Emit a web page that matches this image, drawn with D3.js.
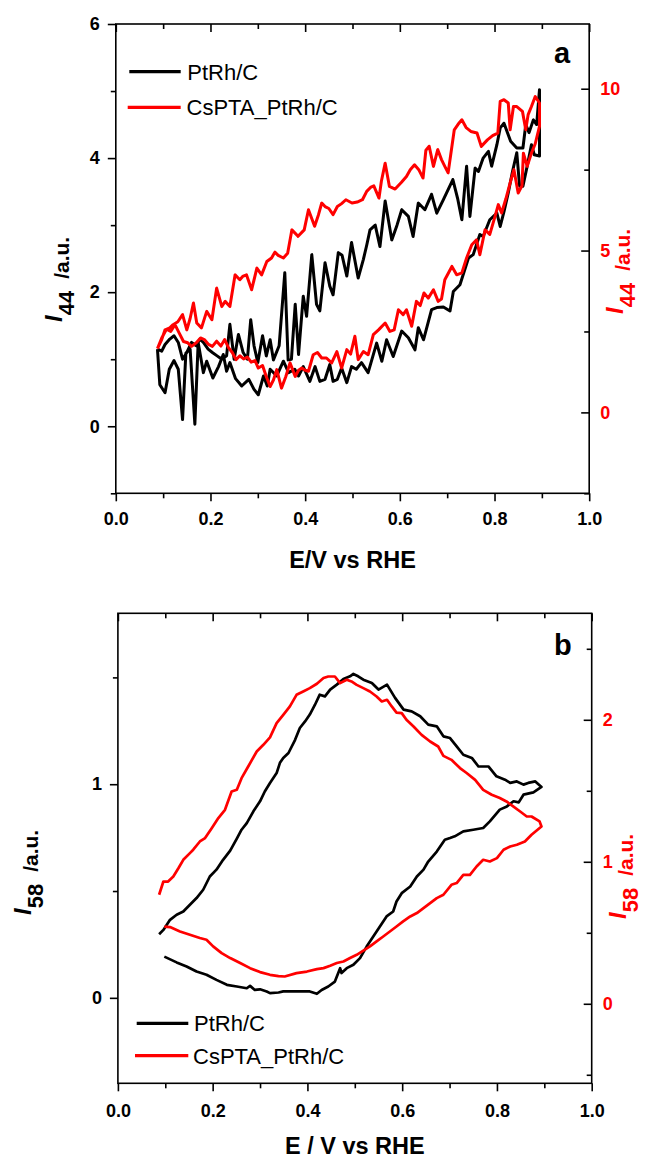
<!DOCTYPE html>
<html><head><meta charset="utf-8">
<script src="https://cdn.jsdelivr.net/npm/d3@7"></script>
<style>body{margin:0;background:#fff}svg{display:block}</style>
</head><body>
<svg id="c" width="648" height="1159"></svg>
<script>
// ---------------- DATA ----------------
const seriesNames = ["PtRh/C", " CsPTA_PtRh/C"];
const seriesNamesB = ["PtRh/C", "CsPTA_PtRh/C"];
const xTicks = [0, 0.2, 0.4, 0.6, 0.8, 1.0];
const xMinorTicks = [0.1, 0.3, 0.5, 0.7, 0.9];
const aLeftTicks = [0, 2, 4, 6];
const aLeftMinor = [-1, 1, 3, 5];
const aRightTicks = [0, 5, 10];
const aRightMinor = [-2.5, 2.5, 7.5];
const bLeftTicks = [0, 1];
const bLeftMinor = [0.5, 1.5];
const bRightTicks = [0, 1, 2];
const bRightMinor = [-0.5, 0.5, 1.5, 2.5];

// panel a, PtRh/C, I44 (left axis) : [E, I]
const aPtRh = [[0.088,1.15],[0.093,0.62],[0.104,0.50],[0.113,0.85],[0.123,0.98],[0.132,0.85],[0.141,0.10],[0.148,1.09],[0.157,1.15],[0.167,0.03],[0.174,1.25],[0.185,0.80],[0.192,0.97],[0.205,0.72],[0.217,0.89],[0.227,1.07],[0.234,0.82],[0.241,0.95],[0.253,0.71],[0.266,0.60],[0.281,0.70],[0.292,0.55],[0.301,0.47],[0.312,0.75],[0.320,0.60],[0.326,0.85],[0.340,0.75],[0.354,0.97],[0.365,0.80],[0.378,0.85],[0.386,0.75],[0.396,0.89],[0.410,0.67],[0.421,0.89],[0.431,0.67],[0.442,0.70],[0.452,0.92],[0.459,0.67],[0.468,0.70],[0.477,0.87],[0.488,0.65],[0.498,0.89],[0.508,0.85],[0.519,0.95],[0.533,0.80],[0.551,1.24],[0.562,0.97],[0.572,1.29],[0.586,1.04],[0.604,1.42],[0.618,1.32],[0.632,1.14],[0.639,1.47],[0.650,1.29],[0.667,1.74],[0.678,1.77],[0.692,1.78],[0.706,1.72],[0.713,2.01],[0.727,2.11],[0.745,2.51],[0.755,2.56],[0.769,2.86],[0.776,2.83],[0.790,3.08],[0.805,3.18],[0.812,2.98],[0.820,3.2],[0.829,3.48],[0.838,3.8],[0.847,4.08],[0.853,3.58],[0.860,3.58],[0.869,3.88],[0.878,4.2],[0.884,4.05],[0.895,4.03],[0.895,5.02],[0.889,4.50],[0.882,4.57],[0.873,4.38],[0.866,4.5],[0.860,4.15],[0.847,4.15],[0.834,4.25],[0.820,4.52],[0.812,4.45],[0.805,4.2],[0.794,3.88],[0.787,4.10],[0.776,4.0],[0.766,3.80],[0.759,3.85],[0.748,3.13],[0.741,3.88],[0.731,3.08],[0.722,3.4],[0.712,3.68],[0.700,3.5],[0.692,3.38],[0.678,3.18],[0.667,3.46],[0.653,3.23],[0.639,3.33],[0.628,2.83],[0.618,3.13],[0.604,3.23],[0.594,3.0],[0.583,2.78],[0.569,3.36],[0.558,2.68],[0.548,3.0],[0.537,2.93],[0.530,2.7],[0.523,2.49],[0.512,2.21],[0.498,2.74],[0.488,2.24],[0.478,2.55],[0.470,2.59],[0.459,1.96],[0.452,2.09],[0.442,2.44],[0.431,1.72],[0.424,1.82],[0.414,2.56],[0.403,1.64],[0.396,1.94],[0.386,1.07],[0.379,1.82],[0.371,1.0],[0.364,0.99],[0.357,2.29],[0.345,1.2],[0.333,0.99],[0.326,1.29],[0.318,1.05],[0.310,1.35],[0.300,0.95],[0.292,1.2],[0.285,1.59],[0.278,1.0],[0.269,1.1],[0.259,1.37],[0.250,1.0],[0.241,1.52],[0.234,1.05],[0.224,1.0],[0.214,1.05],[0.204,1.1],[0.195,1.15],[0.185,1.25],[0.178,1.3],[0.170,1.2],[0.160,1.25],[0.150,1.1],[0.141,1.0],[0.132,1.25],[0.123,1.35],[0.114,1.3],[0.104,1.22],[0.097,1.12],[0.088,1.15]];

// panel a, CsPTA_PtRh/C, I44 (right axis)
const aCsPTA = [[0.088,1.97],[0.097,2.3],[0.107,2.57],[0.116,2.5],[0.125,2.71],[0.134,2.45],[0.143,2.19],[0.152,2.15],[0.160,2.04],[0.170,2.15],[0.179,2.3],[0.187,2.25],[0.196,2.1],[0.204,2.04],[0.213,2.2],[0.222,2.05],[0.230,2.25],[0.238,2.0],[0.246,1.85],[0.254,1.63],[0.262,1.75],[0.270,1.65],[0.278,1.71],[0.286,1.55],[0.294,1.6],[0.301,1.37],[0.310,1.45],[0.318,1.1],[0.326,0.80],[0.333,1.0],[0.340,1.32],[0.350,0.75],[0.359,1.1],[0.368,1.53],[0.379,1.11],[0.386,1.3],[0.393,1.37],[0.400,1.3],[0.407,1.27],[0.417,1.78],[0.426,1.85],[0.435,1.68],[0.445,1.68],[0.456,1.53],[0.467,1.88],[0.477,1.37],[0.488,1.94],[0.496,1.8],[0.505,2.35],[0.512,1.63],[0.523,1.88],[0.533,1.78],[0.544,2.40],[0.555,2.55],[0.569,2.76],[0.579,2.50],[0.588,2.55],[0.597,3.17],[0.607,3.02],[0.614,3.17],[0.625,2.66],[0.635,3.43],[0.643,3.3],[0.651,3.69],[0.660,3.53],[0.671,3.79],[0.681,3.43],[0.688,3.5],[0.695,4.10],[0.710,4.51],[0.720,4.25],[0.731,4.31],[0.741,4.77],[0.752,5.18],[0.762,5.33],[0.769,4.87],[0.780,5.64],[0.790,5.5],[0.800,6.0],[0.808,6.42],[0.815,6.16],[0.824,6.6],[0.833,7.09],[0.841,7.5],[0.850,6.78],[0.858,7.0],[0.861,8.01],[0.869,7.60],[0.878,8.01],[0.886,8.3],[0.895,8.84],[0.895,9.56],[0.886,9.76],[0.878,9.45],[0.871,9.2],[0.866,8.73],[0.859,9.3],[0.847,9.45],[0.840,9.45],[0.833,8.73],[0.829,9.56],[0.820,9.66],[0.812,9.61],[0.807,8.63],[0.796,8.55],[0.785,8.42],[0.772,8.22],[0.763,8.63],[0.750,8.68],[0.740,8.8],[0.731,9.04],[0.723,8.9],[0.715,8.73],[0.702,7.40],[0.695,7.6],[0.688,7.81],[0.680,8.12],[0.671,7.60],[0.662,8.22],[0.655,8.1],[0.649,7.24],[0.640,7.5],[0.631,7.65],[0.622,7.5],[0.614,7.29],[0.603,7.1],[0.590,6.9],[0.578,6.98],[0.569,7.70],[0.561,7.14],[0.556,6.62],[0.545,7.0],[0.538,6.95],[0.530,6.83],[0.521,6.57],[0.510,6.5],[0.499,6.47],[0.486,6.57],[0.477,6.45],[0.468,6.36],[0.459,6.11],[0.450,6.3],[0.442,6.36],[0.435,6.47],[0.428,6.1],[0.420,5.75],[0.407,6.26],[0.398,5.64],[0.385,5.44],[0.372,5.64],[0.363,4.92],[0.354,4.77],[0.343,4.85],[0.336,4.95],[0.329,4.77],[0.319,4.66],[0.308,4.25],[0.298,4.46],[0.287,3.79],[0.276,4.25],[0.268,4.2],[0.262,4.10],[0.252,4.25],[0.241,3.27],[0.231,3.43],[0.224,3.27],[0.213,3.84],[0.203,2.86],[0.192,3.12],[0.181,2.61],[0.171,2.76],[0.164,3.38],[0.157,2.9],[0.150,2.55],[0.141,3.02],[0.131,2.8],[0.121,2.71],[0.114,2.61],[0.104,2.55],[0.097,2.25],[0.088,1.97]];

// panel b, PtRh/C, I58 (left axis)
const bPtRh = [[0.098,0.193],[0.124,0.166],[0.145,0.147],[0.166,0.123],[0.187,0.108],[0.208,0.084],[0.230,0.061],[0.251,0.053],[0.272,0.045],[0.279,0.056],[0.289,0.037],[0.300,0.040],[0.314,0.030],[0.321,0.022],[0.339,0.025],[0.349,0.030],[0.377,0.030],[0.405,0.030],[0.420,0.019],[0.430,0.037],[0.444,0.053],[0.458,0.076],[0.469,0.139],[0.472,0.116],[0.483,0.139],[0.497,0.155],[0.511,0.186],[0.525,0.240],[0.539,0.287],[0.553,0.334],[0.567,0.381],[0.581,0.404],[0.588,0.451],[0.599,0.490],[0.617,0.521],[0.631,0.568],[0.645,0.600],[0.655,0.638],[0.673,0.685],[0.690,0.740],[0.701,0.748],[0.711,0.756],[0.729,0.779],[0.750,0.787],[0.771,0.795],[0.785,0.826],[0.806,0.881],[0.821,0.896],[0.835,0.920],[0.846,0.915],[0.856,0.951],[0.877,0.962],[0.894,0.987],[0.881,1.013],[0.866,1.006],[0.856,0.998],[0.842,1.013],[0.828,1.006],[0.817,1.021],[0.799,1.037],[0.782,1.083],[0.761,1.083],[0.747,1.123],[0.729,1.138],[0.715,1.177],[0.701,1.216],[0.687,1.224],[0.673,1.271],[0.655,1.279],[0.638,1.318],[0.620,1.341],[0.603,1.349],[0.585,1.404],[0.568,1.466],[0.550,1.443],[0.536,1.474],[0.518,1.489],[0.507,1.505],[0.497,1.516],[0.490,1.505],[0.476,1.492],[0.462,1.466],[0.448,1.443],[0.437,1.411],[0.426,1.419],[0.416,1.372],[0.405,1.326],[0.395,1.294],[0.384,1.263],[0.374,1.208],[0.360,1.146],[0.349,1.123],[0.342,1.10],[0.335,1.052],[0.321,1.006],[0.310,0.966],[0.300,0.920],[0.286,0.873],[0.272,0.818],[0.261,0.787],[0.251,0.745],[0.237,0.689],[0.222,0.646],[0.208,0.600],[0.194,0.568],[0.180,0.506],[0.166,0.467],[0.152,0.436],[0.138,0.404],[0.124,0.389],[0.110,0.365],[0.096,0.318],[0.087,0.298]];

// panel b, CsPTA_PtRh/C, I58 (right axis)
const bCsPTA = [[0.087,0.768],[0.096,0.861],[0.106,0.861],[0.117,0.896],[0.128,0.956],[0.138,1.014],[0.152,1.061],[0.159,1.085],[0.173,1.143],[0.184,1.167],[0.198,1.237],[0.212,1.308],[0.226,1.366],[0.240,1.495],[0.251,1.507],[0.261,1.589],[0.275,1.671],[0.293,1.777],[0.307,1.824],[0.321,1.876],[0.335,1.977],[0.349,2.035],[0.363,2.094],[0.377,2.176],[0.391,2.199],[0.405,2.223],[0.420,2.254],[0.434,2.294],[0.444,2.305],[0.458,2.305],[0.469,2.258],[0.483,2.282],[0.493,2.270],[0.504,2.246],[0.518,2.223],[0.532,2.199],[0.546,2.164],[0.557,2.129],[0.568,2.141],[0.578,2.094],[0.588,2.051],[0.599,2.047],[0.609,2.0],[0.624,1.953],[0.641,1.894],[0.659,1.847],[0.676,1.812],[0.687,1.746],[0.704,1.718],[0.722,1.660],[0.736,1.625],[0.754,1.577],[0.771,1.507],[0.789,1.472],[0.806,1.449],[0.820,1.425],[0.835,1.389],[0.849,1.354],[0.863,1.319],[0.873,1.319],[0.890,1.284],[0.894,1.249],[0.873,1.190],[0.859,1.143],[0.842,1.120],[0.828,1.108],[0.814,1.085],[0.800,1.026],[0.785,1.002],[0.771,1.014],[0.757,0.967],[0.743,0.908],[0.729,0.908],[0.715,0.850],[0.704,0.838],[0.687,0.768],[0.673,0.744],[0.659,0.709],[0.645,0.674],[0.631,0.639],[0.617,0.615],[0.602,0.580],[0.588,0.544],[0.574,0.509],[0.560,0.474],[0.546,0.439],[0.532,0.404],[0.518,0.375],[0.504,0.345],[0.490,0.322],[0.476,0.298],[0.462,0.287],[0.448,0.268],[0.434,0.251],[0.420,0.244],[0.399,0.227],[0.377,0.216],[0.352,0.192],[0.339,0.195],[0.321,0.204],[0.300,0.223],[0.279,0.251],[0.258,0.287],[0.237,0.322],[0.219,0.357],[0.201,0.404],[0.187,0.451],[0.173,0.463],[0.152,0.486],[0.131,0.509],[0.110,0.540],[0.098,0.544]];

// ---------------- DRAWING ----------------
const svg = d3.select("#c");
const FONT = "'Liberation Sans', Arial, Helvetica, sans-serif";
const RED = "#ff0000";

function styleAxis(g, color) {
  g.select(".domain").remove();
  g.selectAll(".tick line").attr("stroke", "#000").attr("stroke-width", 1.6);
  g.attr("font-family", FONT).attr("font-size", 18).attr("font-weight", "bold");
  g.selectAll(".tick text").attr("fill", color);
}

function panel(p) {
  const g = svg.append("g");
  const x = d3.scaleLinear().domain([0, 1]).range([p.L, p.R]);
  const yL = d3.scaleLinear().domain(p.yLdom).range([p.B, p.T]);
  const yR = d3.scaleLinear().domain(p.yRdom).range([p.B, p.T]);

  g.append("g").attr("transform", `translate(0,${p.B})`)
    .call(d3.axisBottom(x).tickValues(xTicks).tickFormat(d3.format(".1f")).tickSizeInner(8).tickSizeOuter(0).tickPadding(p.xPad))
    .call(s => styleAxis(s, "#000"));
  g.append("g").attr("transform", `translate(0,${p.B})`)
    .call(d3.axisBottom(x).tickValues(xMinorTicks).tickFormat("").tickSizeInner(5).tickSizeOuter(0))
    .call(s => styleAxis(s, "#000"));
  g.append("g").attr("transform", `translate(0,${p.T})`)
    .call(d3.axisTop(x).tickValues(xTicks).tickFormat("").tickSizeInner(-8).tickSizeOuter(0))
    .call(s => styleAxis(s, "#000"));
  g.append("g").attr("transform", `translate(0,${p.T})`)
    .call(d3.axisTop(x).tickValues(xMinorTicks).tickFormat("").tickSizeInner(-5).tickSizeOuter(0))
    .call(s => styleAxis(s, "#000"));
  g.append("g").attr("transform", `translate(${p.L},0)`)
    .call(d3.axisLeft(yL).tickValues(p.lTicks).tickFormat(d3.format("d")).tickSizeInner(8).tickSizeOuter(0).tickPadding(8))
    .call(s => styleAxis(s, "#000"));
  g.append("g").attr("transform", `translate(${p.L},0)`)
    .call(d3.axisLeft(yL).tickValues(p.lMinor).tickFormat("").tickSizeInner(5).tickSizeOuter(0))
    .call(s => styleAxis(s, "#000"));
  g.append("g").attr("transform", `translate(${p.R},0)`)
    .call(d3.axisRight(yR).tickValues(p.rTicks).tickFormat(d3.format("d")).tickSizeInner(-8).tickSizeOuter(0).tickPadding(11))
    .call(s => styleAxis(s, RED));
  g.append("g").attr("transform", `translate(${p.R},0)`)
    .call(d3.axisRight(yR).tickValues(p.rMinor).tickFormat("").tickSizeInner(-5).tickSizeOuter(0))
    .call(s => styleAxis(s, RED));

  g.append("rect").attr("x", p.L).attr("y", p.T).attr("width", p.R - p.L).attr("height", p.B - p.T)
    .attr("fill", "none").attr("stroke", "#000").attr("stroke-width", 1.6);

  const lineL = d3.line().x(d => x(d[0])).y(d => yL(d[1]));
  const lineR = d3.line().x(d => x(d[0])).y(d => yR(d[1]));
  g.append("path").attr("d", lineL(p.black)).attr("fill", "none").attr("stroke", "#000")
    .attr("stroke-width", p.lw).attr("stroke-linejoin", "round");
  g.append("path").attr("d", lineR(p.red)).attr("fill", "none").attr("stroke", RED)
    .attr("stroke-width", p.lw).attr("stroke-linejoin", "round");

  g.append("text").attr("x", (p.L + p.R) / 2).attr("y", p.xTitleY).attr("text-anchor", "middle")
    .attr("font-family", FONT).attr("font-size", 23.5).attr("font-weight", "bold").text(p.xTitle);

  function yTitle(B, startY, sub, color) {
    const t = g.append("text").attr("transform", `translate(${B},${startY}) rotate(-90)`)
      .attr("fill", color).attr("font-family", FONT).attr("font-weight", "bold");
    t.append("tspan").attr("font-style", "italic").attr("font-size", 24).text("I");
    t.append("tspan").attr("font-size", 22).attr("dy", 12).text(sub);
    t.append("tspan").attr("font-size", 21).attr("dx", 12).attr("dy", -5).text("/a.u.");
  }
  yTitle(p.ltB, p.ltY, p.sub, "#000");
  yTitle(p.rtB, p.rtY, p.sub, RED);

  g.append("text").attr("x", p.letterX).attr("y", p.letterY).attr("font-family", FONT)
    .attr("font-size", 29).attr("font-weight", "bold").text(p.letter);

  const cols = ["#000", RED];
  p.legend.forEach((r, i) => {
    g.append("line").attr("x1", r.x1).attr("x2", r.x2).attr("y1", r.y).attr("y2", r.y)
      .attr("stroke", cols[i]).attr("stroke-width", 3.2);
    g.append("text").attr("x", r.tx).attr("y", r.y + 7.8).attr("font-family", FONT)
      .attr("font-size", 22).attr("fill", "#000").text(r.name);
  });
}

panel({
  L: 115.8, R: 589.2, T: 24, B: 493.3, xPad: 10.9,
  yLdom: [-1, 6], yRdom: [-2.5, 12],
  lTicks: aLeftTicks, lMinor: aLeftMinor, rTicks: aRightTicks, rMinor: aRightMinor,
  black: aPtRh, red: aCsPTA, lw: 3,
  xTitle: "E/V vs RHE", xTitleY: 568.3,
  sub: "44", ltB: 62, ltY: 322, rtB: 623, rtY: 314,
  letter: "a", letterX: 554, letterY: 63,
  legend: [
    {x1: 129.3, x2: 180.7, y: 71.7, tx: 187.3, name: seriesNames[0]},
    {x1: 127.7, x2: 180.7, y: 107.3, tx: 186.5, name: seriesNames[1]}
  ]
});

panel({
  L: 117.9, R: 591.7, T: 613.3, B: 1083.3, xPad: 12.6,
  yLdom: [-0.4, 1.8], yRdom: [-0.56, 2.75],
  lTicks: bLeftTicks, lMinor: bLeftMinor, rTicks: bRightTicks, rMinor: bRightMinor,
  black: bPtRh, red: bCsPTA, lw: 2.7,
  xTitle: "E / V vs RHE", xTitleY: 1153.5,
  sub: "58", ltB: 31, ltY: 915, rtB: 626, rtY: 919,
  letter: "b", letterX: 554, letterY: 655,
  legend: [
    {x1: 136.7, x2: 188.3, y: 1023.3, tx: 194, name: seriesNamesB[0]},
    {x1: 135, x2: 188.3, y: 1055.7, tx: 193, name: seriesNamesB[1]}
  ]
});
</script>
</body></html>
